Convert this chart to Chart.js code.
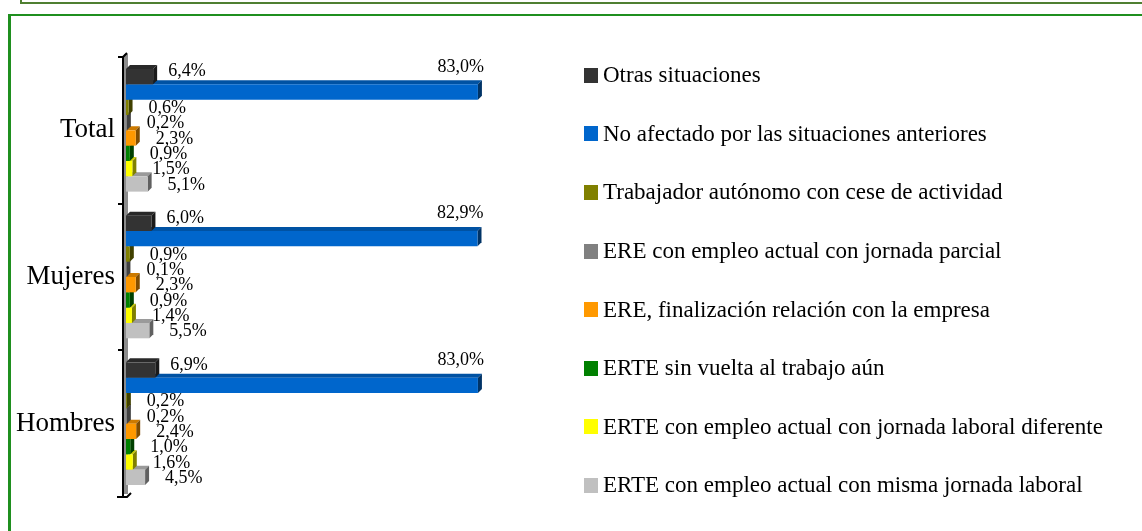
<!DOCTYPE html>
<html lang="es">
<head>
<meta charset="utf-8">
<title>Situación laboral por sexo</title>
<script src="https://cdn.jsdelivr.net/npm/chart.js@4.4.1/dist/chart.umd.min.js"></script>
<style>
  html, body { margin: 0; padding: 0; background: #fff; }
  body { width: 1142px; height: 531px; position: relative; overflow: hidden; font-family: 'Liberation Serif', serif; }
  #marco-sup { position: absolute; left: 20px; top: -10px; width: 1200px; height: 14px; box-sizing: border-box; border: 2px solid #4f7f31; }
  #marco { position: absolute; left: 8px; top: 14px; width: 1200px; height: 600px; box-sizing: border-box; border-top: 2px solid #1f8f1f; border-left: 3px solid #1f8f1f; }
  #grafico { position: absolute; left: 0; top: 0; width: 600px; height: 531px; }
  #leyenda { position: absolute; left: 584px; top: 46px; }
  .item { height: 58.6px; display: flex; align-items: center; font-size: 23px; color: #000; white-space: nowrap; }
  .item i { width: 14px; height: 15px; margin-right: 5px; display: inline-block; }
</style>
</head>
<body>
<div id="marco-sup"></div>
<div id="marco"></div>
<div id="grafico"><canvas id="chart-situacion"></canvas></div>
<div id="leyenda"></div>

<script>
// categorías y series (en %)
const categorias = ['Total', 'Mujeres', 'Hombres'];
const nombresSeries = [
  'Otras situaciones',
  'No afectado por las situaciones anteriores',
  'Trabajador autónomo con cese de actividad',
  'ERE con empleo actual con jornada parcial',
  'ERE, finalización relación con la empresa',
  'ERTE sin vuelta al trabajo aún',
  'ERTE con empleo actual con jornada laboral diferente',
  'ERTE con empleo actual con misma jornada laboral',
];
const otras = [6.4, 6.0, 6.9];
const noAfectado = [83.0, 82.9, 83.0];
const autonomo = [0.6, 0.9, 0.2];
const ereParcial = [0.2, 0.1, 0.2];
const ereFinalizacion = [2.3, 2.3, 2.4];
const erteSinVuelta = [0.9, 0.9, 1.0];
const erteDiferente = [1.5, 1.4, 1.6];
const erteMisma = [5.1, 5.5, 4.5];
const colores = ['#333333', '#0066CC', '#808000', '#808080', '#FF9900', '#008000', '#FFFF00', '#C0C0C0'];

const valores = [otras, noAfectado, autonomo, ereParcial, ereFinalizacion, erteSinVuelta, erteDiferente, erteMisma];

function sombra(hex, f) {
  const n = parseInt(hex.slice(1), 16);
  const r = Math.round(((n >> 16) & 255) * f);
  const g = Math.round(((n >> 8) & 255) * f);
  const b = Math.round((n & 255) * f);
  return `rgb(${r},${g},${b})`;
}

const formato = v => v.toFixed(1).replace('.', ',') + '%';

// pared del eje (efecto 3D)
const pared = {
  id: 'pared',
  beforeDatasetsDraw(chart) {
    const { ctx, chartArea } = chart;
    const L = chartArea.left, T = chartArea.top, B = chartArea.bottom;
    ctx.save();
    ctx.fillStyle = '#8c8c8c';
    ctx.fillRect(L - 2, T - 3, 4, B - T);
    ctx.strokeStyle = '#000';
    ctx.lineWidth = 2;
    ctx.beginPath();
    ctx.moveTo(L - 3, B);
    ctx.lineTo(L - 3, T);
    ctx.lineTo(L + 1, T - 4);
    ctx.moveTo(L - 9, B);
    ctx.lineTo(L + 1, B);
    ctx.lineTo(L + 5, B - 4);
    ctx.stroke();
    ctx.restore();
  }
};

// caras superior y lateral de cada barra (detrás de las caras frontales)
const profundidad = {
  id: 'profundidad',
  beforeDatasetsDraw(chart) {
    const ctx = chart.ctx;
    const d = 4;
    ctx.save();
    for (let i = chart.data.datasets.length - 1; i >= 0; i--) {
      const ds = chart.data.datasets[i];
      chart.getDatasetMeta(i).data.forEach(bar => {
        const { x, y, base, height } = bar.getProps(['x', 'y', 'base', 'height'], true);
        const top = y - height / 2, bottom = y + height / 2;
        ctx.fillStyle = sombra(ds.backgroundColor, 0.8);
        ctx.beginPath();
        ctx.moveTo(base, top); ctx.lineTo(x, top); ctx.lineTo(x + d, top - d); ctx.lineTo(base + d, top - d);
        ctx.closePath(); ctx.fill();
        ctx.fillStyle = sombra(ds.backgroundColor, 0.5);
        ctx.beginPath();
        ctx.moveTo(x, top); ctx.lineTo(x + d, top - d); ctx.lineTo(x + d, bottom - d); ctx.lineTo(x, bottom);
        ctx.closePath(); ctx.fill();
      });
    }
    ctx.restore();
  }
};

// etiquetas de valor
const etiquetas = {
  id: 'etiquetas',
  afterDatasetsDraw(chart) {
    const ctx = chart.ctx;
    ctx.save();
    ctx.font = '18px "Liberation Serif", serif';
    ctx.fillStyle = '#000';
    ctx.textBaseline = 'middle';
    chart.data.datasets.forEach((ds, i) => {
      chart.getDatasetMeta(i).data.forEach((bar, j) => {
        const { x, y } = bar.getProps(['x', 'y'], true);
        const texto = formato(ds.data[j]);
        if (i === 1) {
          ctx.textAlign = 'right';
          ctx.fillText(texto, x + 6, y - 25);
        } else if (i === 0) {
          ctx.textAlign = 'left';
          ctx.fillText(texto, x + 15, y - 5);
        } else {
          ctx.textAlign = 'left';
          ctx.fillText(texto, x + 20, y + 1);
        }
      });
    });
    ctx.restore();
  }
};

const chart = new Chart(document.getElementById('chart-situacion'), {
  type: 'bar',
  data: {
    labels: categorias,
    datasets: nombresSeries.map((nombre, i) => ({
      label: nombre,
      data: valores[i],
      backgroundColor: colores[i],
      borderWidth: 0,
      categoryPercentage: 0.836,
      barPercentage: 1.0,
    })),
  },
  options: {
    indexAxis: 'y',
    responsive: true,
    maintainAspectRatio: false,
    animation: false,
    layout: { padding: { top: 57, bottom: 34, left: 0, right: 50 } },
    scales: {
      x: { display: false, min: 0, max: 100 },
      y: {
        afterFit: scale => { scale.width = 126; },
        border: { display: false },
        grid: { drawOnChartArea: false, tickLength: 8, color: '#000', lineWidth: 2 },
        ticks: { color: '#000', padding: 3, font: { family: '"Liberation Serif", serif', size: 27 } },
      },
    },
    plugins: { legend: { display: false }, tooltip: { enabled: false } },
  },
  plugins: [pared, profundidad, etiquetas],
});

// leyenda HTML
const leyenda = document.getElementById('leyenda');
chart.data.datasets.forEach(ds => {
  const item = document.createElement('div');
  item.className = 'item';
  item.innerHTML = `<i style="background:${ds.backgroundColor}"></i>${ds.label}`;
  leyenda.appendChild(item);
});
</script>
</body>
</html>
